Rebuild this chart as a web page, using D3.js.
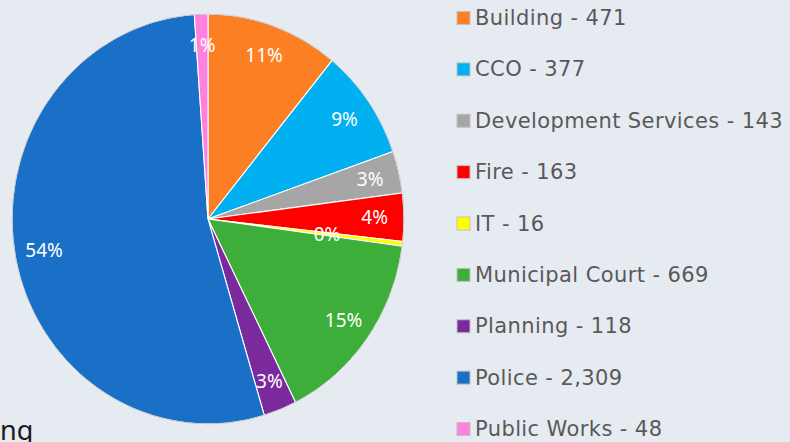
<!DOCTYPE html>
<html>
<head>
<meta charset="utf-8">
<script src="https://cdn.jsdelivr.net/npm/d3@7"></script>
<style>
  html, body { margin: 0; padding: 0; background: #e6ebf2; }
  svg { display: block; }
</style>
</head>
<body>
<div id="chart"></div>
<script>
// Requests by department - pie with legend
const departments = ['Building', 'CCO', 'Development Services', 'Fire', 'IT',
    'Municipal Court', 'Planning', 'Police', 'Public Works'];
const counts = [471, 377, 143, 163, 16, 669, 118, 2309, 48];
// percentage labels as printed on the slices
const pctLabels = ['11%', '9%', '3%', '4%', '0%', '15%', '3%', '54%', '1%'];
const colors = ['#fd7f24', '#00b0f0', '#a6a6a6', '#ff0000', '#ffff00',
    '#3eae3a', '#7b2a9e', '#1a70c6', '#ff80df'];

const width = 790, height = 442;
// the pie is drawn slightly taller than wide, like the source picture
const cx = 208, cy = 219, rx = 196, ry = 205;

const svg = d3.select('#chart').append('svg')
    .attr('width', width)
    .attr('height', height);

const data = departments.map((name, i) => ({ name, value: counts[i], color: colors[i], label: pctLabels[i] }));
const total = d3.sum(counts);

const pie = d3.pie().sort(null).value(d => d.value);
const arcs = pie(data);

const arc = d3.arc().innerRadius(0).outerRadius(rx);
const labelArc = d3.arc().innerRadius(rx * 0.85).outerRadius(rx * 0.85);
const sy = ry / rx;

const root = svg.append('g').attr('transform', `translate(${cx},${cy})`);
const slices = root.append('g').attr('transform', `scale(1,${sy})`);

slices.selectAll('path.slice')
    .data(arcs)
    .enter()
    .append('path')
    .attr('class', 'slice')
    .attr('d', arc)
    .attr('fill', d => d.data.color)
    .attr('stroke', '#ffffff')
    .attr('stroke-width', 1.1)
    .attr('vector-effect', 'non-scaling-stroke');

// soft outer rim
slices.append('circle')
    .attr('r', rx)
    .attr('fill', 'none')
    .attr('stroke', '#c4c8ce')
    .attr('stroke-width', 1)
    .attr('vector-effect', 'non-scaling-stroke');

root.selectAll('text.pct')
    .data(arcs)
    .enter()
    .append('text')
    .attr('class', 'pct')
    .attr('transform', d => {
        let [x, y] = labelArc.centroid(d);
        // tiny IT slice label is pulled inward like the original
        if (d.data.value / total < 0.01) { x *= 0.72; y *= 0.72; }
        return `translate(${x},${y * sy})`;
    })
    .attr('text-anchor', 'middle')
    .attr('dominant-baseline', 'central')
    .attr('fill', '#ffffff')
    .style('font-family', '"Noto Sans", sans-serif')
    .style('font-size', '19px')
    .text(d => d.data.label);

// Legend
const legendY = d3.scalePoint()
    .domain(departments)
    .range([18, 429]);

const legend = svg.append('g').attr('transform', 'translate(457,0)');
const items = legend.selectAll('g.item')
    .data(data)
    .enter()
    .append('g')
    .attr('class', 'item')
    .attr('transform', d => `translate(0,${legendY(d.name)})`);

items.append('rect')
    .attr('x', 0)
    .attr('y', -6.5)
    .attr('width', 13)
    .attr('height', 13)
    .attr('fill', d => d.color)
    .attr('stroke', '#c0c0c0')
    .attr('stroke-width', 1);

items.append('text')
    .attr('x', 18)
    .attr('y', 0)
    .attr('dominant-baseline', 'central')
    .attr('fill', '#595959')
    .style('font-family', '"DejaVu Sans", sans-serif')
    .style('font-size', '21px')
    .style('letter-spacing', '0.4px')
    .text(d => `${d.name} - ${d3.format(',')(d.value)}`);

// clipped text fragment in the bottom-left corner
svg.append('text')
    .attr('x', 0)
    .attr('y', 440)
    .attr('fill', '#1a1a1a')
    .style('font-family', '"Noto Sans", sans-serif')
    .style('font-size', '27px')
    .text('ng');
</script>
</body>
</html>
